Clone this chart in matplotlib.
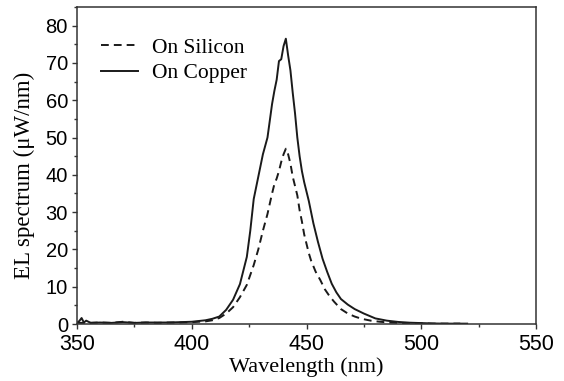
import matplotlib
matplotlib.use("Agg")
import matplotlib.pyplot as plt
from matplotlib.ticker import MultipleLocator

wl_cu = [350, 351, 352, 353, 354, 356, 360, 365, 370, 375, 380, 385, 390, 395, 400, 403, 406, 409, 412, 415, 418, 421, 424, 425.5, 427, 429, 431, 433, 435, 436, 437, 438, 439, 440, 441, 442, 443, 444, 445, 446, 447, 448, 449, 450, 451, 453, 455, 457, 459, 461, 463, 465, 468, 471, 475, 480, 485, 490, 495, 500, 505, 510, 515, 520]
cu = [0.3, 0.8, 1.6, 0.4, 0.9, 0.3, 0.4, 0.3, 0.5, 0.3, 0.4, 0.4, 0.4, 0.5, 0.6, 0.8, 1.0, 1.4, 2.0, 3.8, 6.5, 10.7, 18.0, 25.0, 33.5, 39.5, 45.5, 50.0, 59.0, 62.5, 65.5, 70.5, 71.0, 74.5, 76.5, 72.0, 68.0, 62.0, 56.5, 50.0, 45.0, 41.0, 38.0, 35.5, 33.0, 27.0, 22.0, 17.5, 14.0, 10.8, 8.5, 6.7, 5.2, 4.0, 2.8, 1.5, 0.9, 0.55, 0.35, 0.25, 0.15, 0.1, 0.1, 0.1]

wl_si = [350, 355, 360, 365, 370, 375, 380, 385, 390, 395, 400, 403, 406, 409, 412, 415, 418, 421, 424, 427, 429, 431, 433, 435, 436, 437, 438, 439, 440, 441, 442, 443, 444, 445, 446, 447, 448, 449, 450, 451, 452, 454, 456, 458, 460, 462, 465, 468, 471, 474, 478, 482, 486, 490, 495, 500, 505, 510, 517]
si = [0.3, 0.3, 0.4, 0.3, 0.6, 0.3, 0.4, 0.3, 0.4, 0.4, 0.5, 0.6, 0.7, 1.0, 1.6, 2.8, 4.5, 7.2, 10.5, 15.8, 20.0, 25.0, 29.5, 35.0, 37.5, 39.0, 41.0, 43.5, 45.5, 47.0, 45.5, 43.0, 39.5, 37.0, 34.5, 30.5, 27.5, 24.0, 21.5, 19.0, 17.0, 14.0, 11.8, 9.3, 7.5, 6.0, 4.0, 2.8, 2.0, 1.4, 0.9, 0.6, 0.4, 0.3, 0.2, 0.15, 0.1, 0.1, 0.1]

serif = "Liberation Serif"
sans = "Liberation Sans"

fig = plt.figure(figsize=(5.64, 3.81), dpi=100)
ax = fig.add_axes([77 / 564, 1 - 324 / 381, (536 - 77) / 564, (324 - 7) / 381])

ax.plot(wl_si, si, color="#1a1a1a", lw=1.4, linestyle=(0, (4, 2.6)), label="On Silicon")
ax.plot(wl_cu, cu, color="#1a1a1a", lw=1.4, linestyle="-", label="On Copper")

ax.set_xlim(350, 550)
ax.set_ylim(0, 85)
ax.xaxis.set_major_locator(MultipleLocator(50))
ax.xaxis.set_minor_locator(MultipleLocator(25))
ax.yaxis.set_major_locator(MultipleLocator(10))
ax.yaxis.set_minor_locator(MultipleLocator(5))
ax.tick_params(which="both", direction="out", top=False, right=False, width=1.0, color="#333333")
ax.tick_params(which="major", length=3.5)
ax.tick_params(which="minor", length=2)
for lab in ax.get_xticklabels():
    lab.set_fontfamily(sans)
    lab.set_fontsize(15.5)
for lab in ax.get_yticklabels():
    lab.set_fontfamily(sans)
    lab.set_fontsize(14.5)
ax.tick_params(axis="x", pad=4)
ax.tick_params(axis="y", pad=3)
for s in ax.spines.values():
    s.set_linewidth(1.1)
    s.set_color("#333333")

ax.set_xlabel("Wavelength (nm)", fontfamily=serif, fontsize=16, labelpad=1)
ax.set_ylabel("EL spectrum (\u03bcW/nm)", fontfamily=serif, fontsize=16.5)
ax.yaxis.set_label_coords(-0.092, 0.47)

leg = ax.legend(loc="upper left", frameon=False, prop={"family": serif, "size": 15.5},
                handlelength=1.7, handletextpad=0.65, labelspacing=0.25,
                bbox_to_anchor=(0.034, 0.93), borderaxespad=0.0)

fig.savefig("out.png", dpi=100)
